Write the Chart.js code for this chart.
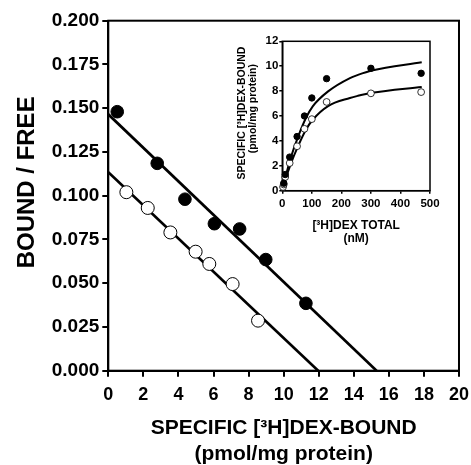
<!DOCTYPE html>
<html>
<head>
<meta charset="utf-8">
<script src="https://cdn.jsdelivr.net/npm/chart.js@4/dist/chart.umd.min.js"></script>
<style>
  body { margin: 0; background: #fff; }
  #wrap { position: relative; width: 471px; height: 465px; }
  #main { position: absolute; left: 0; top: 0; }
  #inset { position: absolute; left: 230px; top: 30px; }
</style>
</head>
<body>
<div id="wrap">
  <canvas id="main" width="471" height="465"></canvas>
  <canvas id="inset" width="210" height="215"></canvas>
</div>
<script>
// Scatchard plot (main)
const filledX = [0.51, 2.79, 4.37, 6.05, 7.49, 8.98, 11.27];
const filledY = [0.148, 0.1185, 0.098, 0.084, 0.081, 0.0635, 0.0385];
const openX = [1.03, 2.25, 3.54, 4.98, 5.76, 7.09, 8.54];
const openY = [0.102, 0.093, 0.079, 0.068, 0.061, 0.0495, 0.0286];
const filledLineX = [0, 15.3];
const filledLineY = [0.1465, 0];
const openLineX = [0, 11.97];
const openLineY = [0.1134, 0];

// saturation curve (inset)
const filledConc = [5, 10, 25, 50, 75, 100, 150, 300, 470];
const filledBound = [0.6, 1.3, 2.7, 4.35, 6.0, 7.45, 9.0, 9.83, 9.43];
const openConc = [2.5, 5, 10, 25, 50, 75, 100, 150, 300, 470];
const openBound = [0.3, 0.5, 1.1, 2.22, 3.57, 4.97, 5.75, 7.13, 7.82, 7.92];
const filledCurveX = [0, 13.5, 28.4, 53, 80, 103, 155, 229, 256, 303, 472];
const filledCurveY = [0, 1.34, 2.63, 4.31, 5.84, 6.78, 7.98, 9.05, 9.3, 9.65, 10.31];
const openCurveX = [0, 13.5, 28.4, 53, 80, 103, 155, 229, 256, 303, 472];
const openCurveY = [0, 1.1, 2.14, 3.56, 4.9, 5.7, 6.8, 7.45, 7.62, 7.86, 8.33];

function pts(xs, ys) {
  let out = [];
  for (let i = 0; i < xs.length; i++) {
    out.push({x: xs[i], y: ys[i]});
  }
  return out;
}

const boxPlugin = {
  id: 'box',
  beforeDatasetsDraw(chart, args, opts) {
    const a = chart.chartArea;
    const c = chart.ctx;
    c.save();
    c.strokeStyle = '#000';
    c.lineWidth = opts.width;
    c.strokeRect(a.left, a.top, a.right - a.left, a.bottom - a.top);
    c.restore();
  }
};

const FONT = "'Liberation Sans', Arial, sans-serif";

var ctx = document.getElementById('main').getContext('2d');
var mainChart = new Chart(ctx, {
  type: 'scatter',
  plugins: [boxPlugin],
  data: {
    datasets: [{
      data: pts(filledX, filledY),
      backgroundColor: '#000',
      borderColor: '#000',
      pointRadius: 6.3,
      clip: false
    },
    {
      data: pts(openX, openY),
      backgroundColor: '#fff',
      borderColor: '#000',
      borderWidth: 1,
      pointRadius: 6.5,
      clip: false
    },
    {
      type: 'line',
      data: pts(filledLineX, filledLineY),
      borderColor: '#000',
      borderWidth: 2.7,
      pointRadius: 0,
      fill: false
    },
    {
      type: 'line',
      data: pts(openLineX, openLineY),
      borderColor: '#000',
      borderWidth: 2.7,
      pointRadius: 0,
      fill: false
    }]
  },
  options: {
    responsive: false,
    animation: false,
    layout: { padding: { top: 20.7, right: 12, bottom: 0, left: 0 } },
    plugins: {
      legend: { display: false },
      tooltip: { enabled: false },
      box: { width: 2 }
    },
    scales: {
      x: {
        type: 'linear',
        min: 0,
        max: 20,
        afterFit: function(scale) { scale.height = 94.3; },
        grid: { drawOnChartArea: false, color: '#000', lineWidth: 2, tickLength: 6 },
        border: { color: '#000', width: 2 },
        ticks: {
          stepSize: 2,
          color: '#000',
          padding: 2,
          maxRotation: 0,
          // tall line height pushes the labels down without widening the right margin
          font: { family: FONT, size: 18, weight: 'bold', lineHeight: '33px' }
        },
        title: {
          display: true,
          text: ['SPECIFIC [\u00b3H]DEX-BOUND', '(pmol/mg protein)'],
          color: '#000',
          padding: { top: 0, bottom: -2 },
          font: { family: FONT, size: 21, weight: 'bold', lineHeight: '26px' }
        }
      },
      y: {
        type: 'linear',
        min: 0,
        max: 0.2,
        afterFit: function(scale) { scale.width = 108.3; },
        grid: { drawOnChartArea: false, color: '#000', lineWidth: 2, tickLength: 6 },
        border: { color: '#000', width: 2 },
        ticks: {
          stepSize: 0.025,
          color: '#000',
          padding: 3,
          font: { family: FONT, size: 19, weight: 'bold' },
          callback: function(value) { return value.toFixed(3); }
        },
        title: {
          display: true,
          // leading spaces nudge the rotated title up a little, as in the original
          text: '    BOUND / FREE',
          color: '#000',
          padding: { top: 13, bottom: 0 },
          font: { family: FONT, size: 24, weight: 'bold', lineHeight: '28px' }
        }
      }
    }
  }
});

var ctx2 = document.getElementById('inset').getContext('2d');
var insetChart = new Chart(ctx2, {
  type: 'scatter',
  plugins: [boxPlugin],
  data: {
    datasets: [{
      data: pts(filledConc, filledBound),
      backgroundColor: '#000',
      borderColor: '#000',
      pointRadius: 3.2,
      clip: false
    },
    {
      data: pts(openConc, openBound),
      backgroundColor: '#fff',
      borderColor: '#000',
      borderWidth: 0.8,
      pointRadius: 3.4,
      clip: false
    },
    {
      type: 'line',
      data: pts(filledCurveX, filledCurveY),
      borderColor: '#000',
      borderWidth: 2,
      pointRadius: 0,
      cubicInterpolationMode: 'monotone',
      fill: false
    },
    {
      type: 'line',
      data: pts(openCurveX, openCurveY),
      borderColor: '#000',
      borderWidth: 2,
      pointRadius: 0,
      cubicInterpolationMode: 'monotone',
      fill: false
    }]
  },
  options: {
    responsive: false,
    animation: false,
    layout: { padding: { top: 11.3, right: 10, bottom: 0, left: 0 } },
    plugins: {
      legend: { display: false },
      tooltip: { enabled: false },
      box: { width: 1.5 }
    },
    scales: {
      x: {
        type: 'linear',
        min: 0,
        max: 500,
        afterFit: function(scale) { scale.height = 54.3; },
        grid: { drawOnChartArea: false, color: '#000', lineWidth: 1.5, tickLength: 3 },
        border: { color: '#000', width: 1.5 },
        ticks: {
          stepSize: 100,
          color: '#000',
          padding: 0,
          maxRotation: 0,
          font: { family: FONT, size: 11.5, weight: 'bold', lineHeight: '20px' }
        },
        title: {
          display: true,
          text: ['[\u00b3H]DEX TOTAL', '(nM)'],
          color: '#000',
          padding: { top: 0, bottom: 0 },
          font: { family: FONT, size: 12, weight: 'bold', lineHeight: '13px' }
        }
      },
      y: {
        type: 'linear',
        min: 0,
        max: 12,
        afterFit: function(scale) { scale.width = 52.3; },
        grid: { drawOnChartArea: false, color: '#000', lineWidth: 1.5, tickLength: 3 },
        border: { color: '#000', width: 1.5 },
        ticks: {
          stepSize: 2,
          color: '#000',
          padding: 1,
          font: { family: FONT, size: 11.5, weight: 'bold' }
        },
        title: {
          display: true,
          text: ['  SPECIFIC [\u00b3H]DEX-BOUND', '     (pmol/mg protein)'],
          color: '#000',
          padding: { top: 6.25, bottom: 0 },
          font: { family: FONT, size: 10.5, weight: 'bold', lineHeight: '11.5px' }
        }
      }
    }
  }
});
</script>
</body>
</html>
